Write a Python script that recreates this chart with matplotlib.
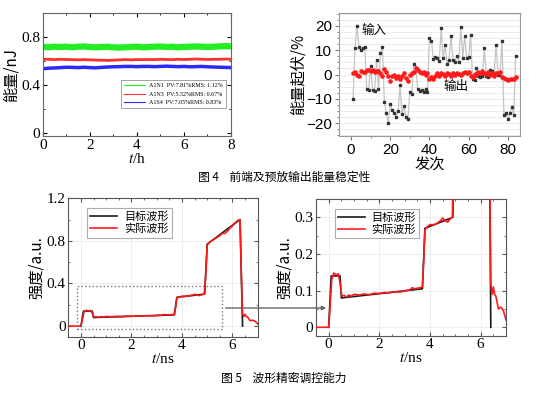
import matplotlib
matplotlib.use("Agg")
import matplotlib.pyplot as plt
from matplotlib.patches import Rectangle, FancyArrowPatch
from matplotlib.lines import Line2D
from matplotlib.ticker import MultipleLocator

plt.rcParams['font.family'] = ['Liberation Serif', 'Noto Sans CJK SC']
plt.rcParams['mathtext.fontset'] = 'stix'
plt.rcParams['axes.unicode_minus'] = True

CJK = ['Noto Sans CJK SC', 'DejaVu Sans']

# 图4 左: 能量随时间
t_h = [i * 0.25 for i in range(33)]
e_a1n1 = [0.72, 0.715, 0.72, 0.718, 0.72, 0.715, 0.72, 0.722, 0.718, 0.715, 0.717,
          0.72, 0.715, 0.713, 0.715, 0.718, 0.72, 0.715, 0.718, 0.72, 0.722, 0.718,
          0.72, 0.715, 0.718, 0.72, 0.722, 0.72, 0.718, 0.72, 0.722, 0.725, 0.722]
e_a1n3 = [0.615, 0.615, 0.612, 0.615, 0.613, 0.612, 0.61, 0.612, 0.61, 0.608, 0.607,
          0.605, 0.607, 0.61, 0.612, 0.61, 0.612, 0.612, 0.613, 0.612, 0.615, 0.613,
          0.612, 0.615, 0.613, 0.615, 0.617, 0.615, 0.613, 0.615, 0.615, 0.617, 0.615]
e_a1s4 = [0.535, 0.54, 0.542, 0.545, 0.548, 0.547, 0.545, 0.548, 0.545, 0.543, 0.547,
          0.55, 0.552, 0.553, 0.555, 0.555, 0.553, 0.555, 0.555, 0.553, 0.555, 0.557,
          0.555, 0.553, 0.555, 0.552, 0.553, 0.555, 0.552, 0.55, 0.548, 0.547, 0.545]
labels4 = ['A1N1  PV:7.81%RMS: 1.12%', 'A1N3  PV:5.52%RMS: 0.67%', 'A1S4  PV:7.05%RMS: 0.83%']
colors4 = ['#22ee22', '#ff3030', '#2a2aff']

# 图4 右: 能量起伏
shots = list(range(1, 85))
fluct_in = [-10, 11, 20, 11.5, 10, 11, 11.5, -6, -6.5, 3.5, -6.5, -6.8, 6, -6, 9, 11.5,
            -11.3, -16, -20, -12.3, -14.5, -16, -17.3, -15, -4.4, -16.4, -13, -17.3, -18.2,
            -7, -8, 4.5, 2.5, -6, -6.8, -6.5, -7.2, -6, -7, 15, 14, 6.2, 7.3, 7, 5.5, 19,
            6.6, 12, 4.5, 6, 16, 6, 5.2, 7.6, 5.2, 19.7, 7, 16, 6.6, 7.3, 16.3, -2, -2.3,
            2.8, -0.7, -1, -0.7, 11, -0.7, -1.2, 1.8, 1.4, 0.4, 12, 0, 0, 14, -16.8, -16,
            -18.2, -16, -13.3, -16.5, 7.6]
fluct_out = [0.8, 1.2, -0.3, -0.5, 1.5, 1.0, 1.2, 1.8, 2.0, 1.5, 1.8, 1.2, 1.5, 1.6, 0.8,
             -0.5, 2.2, 1.2, -0.5, -2.5, -0.8, -0.3, -1.5, -0.5, -2.0, -0.8, 0.5, -1.3,
             -2.5, -0.2, 0.5, 1.0, 2.5, 1.8, 1.0, 0.5, 1.2, 0.0, 0.8, -1.8, -1.2, -2.0,
             -0.8, 0.5, -0.5, 0.8, 0.2, -0.5, 0.5, 0.3, -0.8, 0.5, -0.3, 0.8, 0.2, 0.0,
             0.8, 1.2, 0.5, 1.0, -0.5, -1.0, 0.3, 0.0, 1.0, 0.5, 1.5, 0.5, 0.2, 1.0, -0.3,
             0.5, -0.5, 0.8, 0.5, 1.2, -1.0, -1.5, -1.8, -2.2, -2.0, -1.8, -2.0, -1.2]

# 图5: 波形
t_target = [0, 0.1, 0.45, 0.5, 3.7, 3.8, 4.9, 5.0, 6.3, 6.4]
y_target = [0, 0.14, 0.14, 0.08, 0.105, 0.27, 0.30, 0.77, 1.0, 0.0]
t_actual = [-0.5, -0.3, 0, 0.05, 0.12, 0.2, 0.3, 0.38, 0.45, 0.52, 0.6, 0.7, 0.8, 0.9,
            1.0, 1.2, 1.4, 1.6, 1.8, 2.0, 2.2, 2.4, 2.6, 2.8, 3.0, 3.2, 3.3, 3.4, 3.6,
            3.7, 3.75, 3.8, 3.9, 4.0, 4.1, 4.2, 4.3, 4.4, 4.5, 4.6, 4.7, 4.8, 4.88, 4.95,
            5.0, 5.1, 5.3, 5.5, 5.6, 5.7, 5.8, 5.9, 6.0, 6.1, 6.2, 6.3, 6.35, 6.4, 6.45,
            6.5, 6.55, 6.6, 6.7, 6.8, 6.9, 7.0]
y_actual = [0.0, 0.0, 0.0, 0.05, 0.13, 0.148, 0.143, 0.146, 0.12, 0.085, 0.087, 0.083,
            0.088, 0.085, 0.09, 0.088, 0.091, 0.089, 0.093, 0.092, 0.095, 0.094, 0.097,
            0.096, 0.099, 0.102, 0.108, 0.105, 0.108, 0.11, 0.18, 0.265, 0.275, 0.28,
            0.28, 0.28, 0.285, 0.29, 0.298, 0.29, 0.287, 0.296, 0.30, 0.5, 0.76, 0.79,
            0.82, 0.85, 0.87, 0.87, 0.89, 0.92, 0.94, 0.97, 0.99, 1.0, 0.5, 0.12, 0.09,
            0.11, 0.09, 0.085, 0.05, 0.055, 0.045, 0.02]

W, H = 536, 395
fig = plt.figure(figsize=(W / 100, H / 100), dpi=100)


def rect(l, t, r, b):
    return [l / W, 1 - b / H, (r - l) / W, (b - t) / H]


# ---- 图4 左
ax1 = fig.add_axes(rect(42.7, 13.3, 231, 136))
ax1.plot(t_h, e_a1n1, color=colors4[0], lw=4.5)
ax1.plot(t_h, e_a1n3, color=colors4[1], lw=2)
ax1.plot(t_h, e_a1s4, color=colors4[2], lw=2.5)
ax1.set_xlim(0, 8)
ax1.set_ylim(-0.028, 1.0)
ax1.set_xticks([0, 2, 4, 6, 8])
ax1.set_yticks([0, 0.4, 0.8])
ax1.set_yticklabels(['0', '0.4', '0.8'])
ax1.xaxis.set_minor_locator(MultipleLocator(1))
ax1.yaxis.set_minor_locator(MultipleLocator(0.2))
ax1.tick_params(which='both', direction='in', top=True, right=True, labelsize=11, pad=2)
ax1.tick_params(which='major', length=3)
ax1.tick_params(which='minor', length=1.5)
for s in ax1.spines.values():
    s.set_color('#666666')
    s.set_linewidth(0.8)
ax1.set_xlabel('$t$/h', fontsize=11, labelpad=0)
ax1.set_ylabel('能量/nJ', fontsize=11, family=CJK, labelpad=1)
handles = [Line2D([], [], color=c, lw=0.8) for c in colors4]
leg = ax1.legend(handles, labels4, loc='lower right', bbox_to_anchor=(0.99, 0.2),
                 fontsize=4.3, frameon=True, fancybox=False, edgecolor='#777777',
                 handlelength=3.5, borderpad=0.5, labelspacing=0.6)
leg.get_frame().set_linewidth(0.6)

# ---- 图4 右
ax2 = fig.add_axes(rect(339.3, 13.3, 520, 135.7))
ax2.plot(shots, fluct_in, color='#c4c4c4', lw=0.9, marker='s', ms=1.7,
         mfc='#333333', mec='#333333', zorder=2)
ax2.plot(shots, fluct_out, color='#ffc0c0', lw=0.5, marker='o', ms=2.3,
         mfc='#ff1a1a', mec='#ff1a1a', zorder=3)
ax2.set_xlim(-6, 86.2)
ax2.set_ylim(-25.2, 25.2)
ax2.set_xticks([0, 20, 40, 60, 80])
ax2.set_yticks([-20, -10, 0, 10, 20])
ax2.xaxis.set_minor_locator(MultipleLocator(10))
ax2.yaxis.set_minor_locator(MultipleLocator(2.5))
ax2.yaxis.grid(True, which='both', color='#ececec', lw=0.7)
ax2.set_axisbelow(True)
ax2.tick_params(which='both', direction='out', colors='#777777', labelcolor='black',
                labelsize=11, pad=2)
ax2.tick_params(which='major', length=3)
ax2.tick_params(which='minor', length=1.5)
for lab in ax2.get_xticklabels() + ax2.get_yticklabels():
    lab.set_family(['Liberation Sans'])
for s in ax2.spines.values():
    s.set_color('#999999')
    s.set_linewidth(0.8)
ax2.set_xlabel('发次', fontsize=11, family=CJK, labelpad=0)
ax2.set_ylabel('能量起伏/%', fontsize=11, family=CJK, labelpad=0)
ax2.text(5.5, 18.3, '输入', fontsize=9, family=CJK, va='center', ha='left')
ax2.text(47, -4.8, '输出', fontsize=9, family=CJK, va='center', ha='left')

fig.text(0.53, 1 - 177 / H, '图 4    前端及预放输出能量稳定性', fontsize=8.5,
         family=CJK, ha='center', va='center')


# ---- 图5
def wave_axes(ax, ylim, yticks, ylabels, yminor):
    ax.plot(t_target, y_target, color='#1a1a1a', lw=1.2, label='目标波形', zorder=3)
    ax.plot(t_actual, y_actual, color='#ff1a1a', lw=1.2, label='实际波形', zorder=4)
    ax.set_xlim(-0.5, 7)
    ax.set_ylim(*ylim)
    ax.set_xticks([0, 2, 4, 6])
    ax.set_yticks(yticks)
    ax.set_yticklabels(ylabels)
    ax.xaxis.set_minor_locator(MultipleLocator(0.5))
    ax.yaxis.set_minor_locator(MultipleLocator(yminor))
    ax.grid(True, which='major', color='#ebebeb', lw=0.6)
    ax.set_axisbelow(True)
    ax.tick_params(which='both', direction='in', top=True, right=True, labelsize=11,
                   pad=2, colors='#555555', labelcolor='black')
    ax.tick_params(which='major', length=3)
    ax.tick_params(which='minor', length=1.5)
    for s in ax.spines.values():
        s.set_color('#555555')
        s.set_linewidth(0.8)
    ax.set_xlabel('$t$/ns', fontsize=11, labelpad=0)
    ax.set_ylabel('强度/a.u.', fontsize=11, family=CJK, labelpad=1)
    lg = ax.legend(loc='upper left', bbox_to_anchor=(0.07, 0.97),
                   prop={'family': CJK, 'size': 8}, frameon=True, fancybox=False,
                   edgecolor='#999999', handlelength=2.4, borderpad=0.3,
                   labelspacing=0.15, handletextpad=0.6)
    lg.get_frame().set_linewidth(0.8)


ax3 = fig.add_axes(rect(68.3, 198.3, 257.7, 336.7))
wave_axes(ax3, (-0.1, 1.2), [0, 0.4, 0.8, 1.2], ['0', '0.4', '0.8', '1.2'], 0.2)
ax3.add_patch(Rectangle((-0.15, -0.03), 5.75, 0.41, fill=False, ls=':', lw=1.0,
                        ec='#777777', zorder=5))

ax4 = fig.add_axes(rect(316, 199, 506, 335.7))
wave_axes(ax4, (-0.023, 0.35), [0, 0.1, 0.2, 0.3], ['0', '0.1', '0.2', '0.3'], 0.05)

fig.patches.append(FancyArrowPatch(
    (223 / W, 1 - 308 / H), (329 / W, 1 - 308 / H), transform=fig.transFigure,
    arrowstyle='-|>', mutation_scale=6, color='#666666', lw=1.0))

fig.text(0.53, 1 - 378 / H, '图 5    波形精密调控能力', fontsize=8.5,
         family=CJK, ha='center', va='center')

fig.savefig('out.png', dpi=100)
